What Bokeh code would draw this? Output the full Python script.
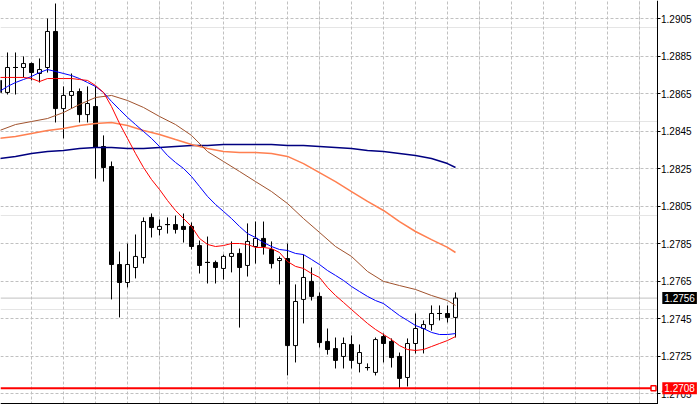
from bokeh.plotting import figure
from bokeh.models import Range1d, FixedTicker, Grid, Label, PrintfTickFormatter, LinearAxis, BoxAnnotation
from bokeh.embed import file_html
from bokeh.resources import INLINE

# ---- OHLC data (bar index 0..57) ----
bar_open = [1.28720, 1.28656, 1.28789, 1.28789, 1.28810, 1.28757, 1.28789, 1.28981, 1.28570, 1.28640,
            1.28661, 1.28538, 1.28581, 1.28368, 1.28261, 1.27739, 1.27643, 1.27723, 1.27776, 1.27990,
            1.27926, 1.27952, 1.27952, 1.27942, 1.27942, 1.27840, 1.27750, 1.27750, 1.27718, 1.27782,
            1.27798, 1.27734, 1.27835, 1.27878, 1.27819, 1.27760, 1.27771, 1.27307, 1.27553, 1.27649,
            1.27569, 1.27329, 1.27291, 1.27249, 1.27313, 1.27212, 1.27190, 1.27164, 1.27355, 1.27329,
            1.27249, 1.27137, 1.27318, 1.27398, 1.27419, 1.27478, 1.27478, 1.27457]
bar_high = [1.28752, 1.28869, 1.28869, 1.28848, 1.28816, 1.28837, 1.29050, 1.29130, 1.28688, 1.28757,
            1.28677, 1.28688, 1.28688, 1.28427, 1.28288, 1.27808, 1.27851, 1.27899, 1.27990, 1.28011,
            1.27979, 1.27990, 1.28000, 1.28011, 1.27963, 1.27867, 1.27888, 1.27760, 1.27792, 1.27862,
            1.27824, 1.27958, 1.27968, 1.27968, 1.27862, 1.27782, 1.27851, 1.27633, 1.27792, 1.27723,
            1.27590, 1.27398, 1.27350, 1.27350, 1.27361, 1.27313, 1.27212, 1.27350, 1.27371, 1.27345,
            1.27270, 1.27345, 1.27478, 1.27441, 1.27521, 1.27521, 1.27521, 1.27590]
bar_low = [1.28634, 1.28645, 1.28645, 1.28736, 1.28720, 1.28709, 1.28762, 1.28496, 1.28411, 1.28570,
           1.28496, 1.28496, 1.28197, 1.28181, 1.27553, 1.27457, 1.27617, 1.27665, 1.27744, 1.27883,
           1.27894, 1.27904, 1.27904, 1.27856, 1.27819, 1.27691, 1.27638, 1.27638, 1.27659, 1.27697,
           1.27403, 1.27675, 1.27744, 1.27792, 1.27718, 1.27633, 1.27148, 1.27217, 1.27425, 1.27547,
           1.27297, 1.27259, 1.27185, 1.27185, 1.27185, 1.27164, 1.27174, 1.27148, 1.27217, 1.27190,
           1.27080, 1.27089, 1.27265, 1.27265, 1.27387, 1.27441, 1.27430, 1.27350]
bar_close = [1.28656, 1.28789, 1.28789, 1.28810, 1.28762, 1.28778, 1.28981, 1.28570, 1.28640, 1.28661,
             1.28538, 1.28597, 1.28363, 1.28256, 1.27739, 1.27643, 1.27739, 1.27782, 1.27968, 1.27936,
             1.27942, 1.27952, 1.27926, 1.27926, 1.27835, 1.27734, 1.27750, 1.27723, 1.27782, 1.27798,
             1.27723, 1.27862, 1.27878, 1.27835, 1.27744, 1.27771, 1.27307, 1.27542, 1.27670, 1.27569,
             1.27323, 1.27286, 1.27228, 1.27318, 1.27228, 1.27270, 1.27190, 1.27339, 1.27318, 1.27243,
             1.27132, 1.27318, 1.27398, 1.27419, 1.27478, 1.27478, 1.27457, 1.27560]

# ---- moving averages ----
ma_fast_red = [1.28736, 1.28736, 1.28736, 1.28736, 1.28730, 1.28714, 1.28730, 1.28730, 1.28730, 1.28730,
               1.28725, 1.28720, 1.28693, 1.28656, 1.28581, 1.28491, 1.28411, 1.28331, 1.28256, 1.28192,
               1.28139, 1.28080, 1.28027, 1.27984, 1.27942, 1.27878, 1.27846, 1.27835, 1.27840, 1.27851,
               1.27851, 1.27846, 1.27830, 1.27830, 1.27824, 1.27803, 1.27755, 1.27729, 1.27718, 1.27691,
               1.27670, 1.27617, 1.27574, 1.27537, 1.27499, 1.27462, 1.27425, 1.27393, 1.27366, 1.27339,
               1.27307, 1.27286, 1.27281, 1.27286, 1.27302, 1.27318, 1.27334, 1.27355]
ma_blue = [1.28661, 1.28688, 1.28709, 1.28725, 1.28741, 1.28762, 1.28778, 1.28768, 1.28757, 1.28746,
           1.28730, 1.28709, 1.28688, 1.28656, 1.28608, 1.28565, 1.28523, 1.28485, 1.28448, 1.28411,
           1.28368, 1.28320, 1.28283, 1.28251, 1.28208, 1.28155, 1.28102, 1.28059, 1.28022, 1.27984,
           1.27942, 1.27904, 1.27883, 1.27856, 1.27835, 1.27819, 1.27814, 1.27798, 1.27792, 1.27766,
           1.27739, 1.27707, 1.27681, 1.27654, 1.27622, 1.27595, 1.27569, 1.27547, 1.27531, 1.27499,
           1.27467, 1.27441, 1.27414, 1.27398, 1.27377, 1.27366, 1.27366, 1.27371]
slow_bars = [0, 2, 4, 6, 8, 10, 12, 14, 16, 18, 20, 22, 24, 26, 28, 30, 32, 34, 36, 38,
             40, 42, 44, 46, 48, 50, 52, 54, 56, 57]
ma_brown = [1.28453, 1.28485, 1.28501, 1.28517, 1.28549, 1.28592, 1.28629, 1.28640, 1.28613, 1.28576,
            1.28528, 1.28485, 1.28427, 1.28341, 1.28288, 1.28235, 1.28181, 1.28128, 1.28064, 1.27984,
            1.27910, 1.27835, 1.27782, 1.27702, 1.27649, 1.27627, 1.27606, 1.27574, 1.27547, 1.27521]
ma_coral = [1.28411, 1.28421, 1.28437, 1.28453, 1.28464, 1.28480, 1.28491, 1.28496, 1.28480, 1.28453,
            1.28432, 1.28405, 1.28379, 1.28357, 1.28341, 1.28336, 1.28336, 1.28331, 1.28315, 1.28277,
            1.28229, 1.28181, 1.28128, 1.28075, 1.28027, 1.27968, 1.27915, 1.27872, 1.27830, 1.27803]
ma_navy = [1.28304, 1.28315, 1.28331, 1.28341, 1.28347, 1.28357, 1.28363, 1.28363, 1.28357, 1.28357,
           1.28363, 1.28368, 1.28373, 1.28373, 1.28379, 1.28379, 1.28379, 1.28379, 1.28373, 1.28373,
           1.28368, 1.28363, 1.28357, 1.28347, 1.28341, 1.28331, 1.28320, 1.28304, 1.28277, 1.28256]

y_ticks = [1.2705, 1.2725, 1.2745, 1.2765, 1.2785, 1.2805, 1.2825, 1.2845, 1.2865, 1.2885, 1.2905]
current_price = 1.2756
level_price = 1.2708
grid_bars = list(range(4, 81, 4))

bars = list(range(len(bar_open)))
body_top = [max(o, c) for o, c in zip(bar_open, bar_close)]
body_bot = [min(o, c) for o, c in zip(bar_open, bar_close)]
body_fill = ["white" if c >= o else "black" for o, c in zip(bar_open, bar_close)]
doji = [i for i in bars if bar_open[i] == bar_close[i]]

# view window (bar units / price units)
X0, X1 = 0.125, 87.375
Y0, Y1 = 1.26993, 1.29146
AXIS_X = 82.1875
BOTTOM_Y = 1.26997

p = figure(width=698, height=404,
           x_range=Range1d(X0, X1), y_range=Range1d(Y0, Y1),
           output_backend="svg", toolbar_location=None,
           x_axis_location=None, y_axis_location=None, min_border=0)
p.outline_line_color = None
p.background_fill_color = "white"
p.border_fill_color = "white"

gx = Grid(dimension=0, ticker=FixedTicker(ticks=grid_bars), grid_line_color="#c0c0c0",
          grid_line_dash="3 2", grid_line_width=1)
gy = Grid(dimension=1, ticker=FixedTicker(ticks=y_ticks), grid_line_color="#c0c0c0",
          grid_line_dash="3 2", grid_line_width=1)
p.add_layout(gx)
p.add_layout(gy)
# blank price-scale area (covers grid right of the axis)
p.add_layout(BoxAnnotation(left=AXIS_X, fill_color="white", fill_alpha=1.0,
                           line_color=None, level="underlay"))

ax = LinearAxis(fixed_location=AXIS_X, ticker=FixedTicker(ticks=y_ticks),
                formatter=PrintfTickFormatter(format="%.4f"))
ax.axis_line_color = "black"
ax.major_tick_line_color = "black"
ax.major_tick_out = 3
ax.major_tick_in = 0
ax.minor_tick_line_color = None
ax.major_label_standoff = 1
ax.major_label_text_font = "Liberation Sans"
ax.major_label_text_font_size = "10px"
ax.major_label_text_color = "black"
p.add_layout(ax, "right")

# current price line and bottom edge
p.segment(x0=[X0], x1=[AXIS_X], y0=[current_price], y1=[current_price],
          line_color="#c0c0c0", line_width=1)
p.segment(x0=[X0], x1=[AXIS_X], y0=[BOTTOM_Y], y1=[BOTTOM_Y],
          line_color="black", line_width=1.5)

# candles
p.segment(x0=bars, x1=bars, y0=bar_low, y1=bar_high, line_color="black", line_width=1)
p.vbar(x=bars, width=0.5, top=body_top, bottom=body_bot, fill_color=body_fill,
       line_color="black", line_width=1)
p.segment(x0=[i - 0.3 for i in doji], x1=[i + 0.3 for i in doji],
          y0=[bar_open[i] for i in doji], y1=[bar_open[i] for i in doji],
          line_color="black", line_width=1)

# moving averages
p.line(slow_bars, ma_navy, line_color="#000080", line_width=1.5)
p.line(slow_bars, ma_coral, line_color="#ff7f50", line_width=1.5)
p.line(slow_bars, ma_brown, line_color="#a0522d", line_width=1)
p.line(bars, ma_blue, line_color="#0000ff", line_width=1)
p.line(bars, ma_fast_red, line_color="#ff0000", line_width=1)

# horizontal level line with end marker
p.segment(x0=[X0], x1=[81.75], y0=[level_price], y1=[level_price],
          line_color="#ff0000", line_width=2)
p.scatter([81.75], [level_price], marker="square", size=5, fill_color="white",
          line_color="#ff0000", line_width=1.5)

# price labels on the scale
p.add_layout(Label(x=82.85, y=current_price, text=f"{current_price:.4f}", text_color="white",
                   text_font="Liberation Sans", text_font_size="10px", text_align="left",
                   text_baseline="middle", background_fill_color="black", padding=2))
p.add_layout(Label(x=82.85, y=level_price, text=f"{level_price:.4f}", text_color="white",
                   text_font="Liberation Sans", text_font_size="10px", text_align="left",
                   text_baseline="middle", background_fill_color="#ff0000", padding=2))

open("out.html", "w").write(file_html(p, INLINE))
